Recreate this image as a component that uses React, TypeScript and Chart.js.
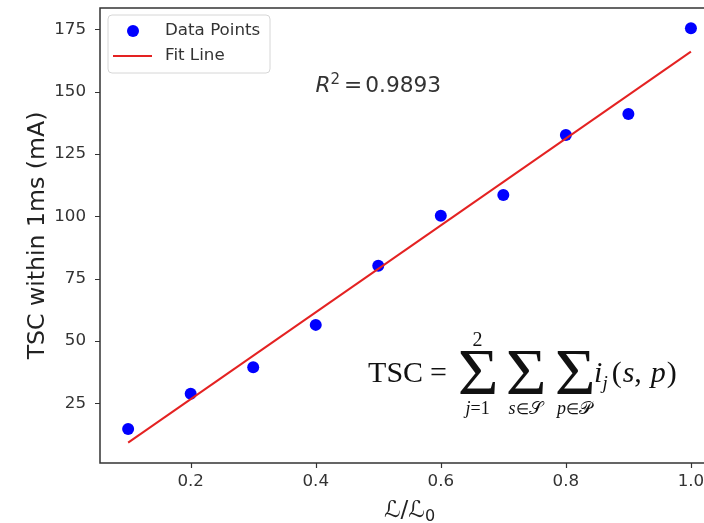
import React, { useEffect, useRef } from "react";
import { Chart, registerables } from "chart.js";

Chart.register(...registerables);

// ---- data ----
const X_VALUES = [0.1, 0.2, 0.3, 0.4, 0.5, 0.6, 0.7, 0.8, 0.9, 1.0];
const TSC_VALUES = [14.6, 28.8, 39.4, 56.4, 80.1, 100.2, 108.5, 132.6, 141.0, 175.4];
const FIT_X = [0.1, 1.0];
const FIT_Y = [9.2, 166.0];
const X_TICKS = [0.2, 0.4, 0.6, 0.8, 1.0];
const Y_TICKS = [25, 50, 75, 100, 125, 150, 175];
const LEGEND_LABELS = ["Data Points", "Fit Line"];
const R2_VALUE = "0.9893";
const Y_TITLE = "TSC within 1ms (mA)";

// ---- layout / style constants ----
const SANS = "DejaVu Sans";
const SERIF = "Liberation Serif";
const BLUE = "#0000ff";
const RED = "#e42222";
const INK = "#333333";
const R2_POS = { x: 0.5, y: 150 };
const FORMULA_POS = { x: 0.4837, y: 33.5 };
const VIEW_W = 704;
const VIEW_H = 523;
const TICK_LEN = 5;
// visible x-range: the figure is cropped on the right, so the axis is cut at ~1.021
const X_MIN = 0.055;
const X_MAX_VISIBLE = 1.0209;
const Y_MIN = 1.0;
const Y_MAX = 183.5;

function drawSegments(
  ctx: CanvasRenderingContext2D,
  segs: { t: string; font: string; dy?: number; gap?: number }[],
  x: number,
  y: number,
  align: "left" | "center"
) {
  let total = 0;
  const widths = segs.map((s) => {
    ctx.font = s.font;
    const w = ctx.measureText(s.t).width + (s.gap || 0);
    total += w;
    return w;
  });
  let cx = align === "center" ? x - total / 2 : x;
  segs.forEach((s, i) => {
    ctx.font = s.font;
    ctx.fillText(s.t, cx, y + (s.dy || 0));
    cx += widths[i];
  });
  return total;
}

function drawSigma(ctx: CanvasRenderingContext2D, x: number, y: number, w: number, h: number) {
  ctx.save();
  ctx.font = `60px "${SERIF}"`;
  ctx.textAlign = "left";
  ctx.textBaseline = "alphabetic";
  const m = ctx.measureText("Σ");
  const bw = m.actualBoundingBoxLeft + m.actualBoundingBoxRight;
  const bh = m.actualBoundingBoxAscent + m.actualBoundingBoxDescent;
  ctx.translate(x, y);
  ctx.scale(w / bw, h / bh);
  ctx.fillText("Σ", m.actualBoundingBoxLeft, m.actualBoundingBoxAscent);
  ctx.restore();
}

const annotationPlugin = {
  id: "annotations",
  afterDraw(chart: any) {
    const { ctx, chartArea: ca, scales } = chart;
    const xs = scales.x;
    const ys = scales.y;
    ctx.save();

    // spines: left, bottom, top (right spine lies outside the cropped view)
    ctx.strokeStyle = INK;
    ctx.lineWidth = 1.5;
    ctx.beginPath();
    ctx.moveTo(ca.left, ca.top);
    ctx.lineTo(ca.left, ca.bottom);
    ctx.moveTo(ca.left - 0.75, ca.bottom);
    ctx.lineTo(ca.right + 2, ca.bottom);
    ctx.moveTo(ca.left - 0.75, ca.top);
    ctx.lineTo(ca.right + 2, ca.top);
    ctx.stroke();

    // tick marks
    ctx.lineWidth = 1.2;
    ctx.beginPath();
    Y_TICKS.forEach((v) => {
      const py = Math.round(ys.getPixelForValue(v)) + 0.5;
      ctx.moveTo(ca.left - TICK_LEN, py);
      ctx.lineTo(ca.left, py);
    });
    X_TICKS.forEach((v) => {
      const px = Math.round(xs.getPixelForValue(v)) + 0.5;
      ctx.moveTo(px, ca.bottom);
      ctx.lineTo(px, ca.bottom + TICK_LEN);
    });
    ctx.stroke();

    // legend
    const lx = ca.left + 8;
    const ly = ca.top + 7;
    const lw = 162;
    const lh = 58;
    const r = 4;
    ctx.beginPath();
    ctx.moveTo(lx + r, ly);
    ctx.lineTo(lx + lw - r, ly);
    ctx.quadraticCurveTo(lx + lw, ly, lx + lw, ly + r);
    ctx.lineTo(lx + lw, ly + lh - r);
    ctx.quadraticCurveTo(lx + lw, ly + lh, lx + lw - r, ly + lh);
    ctx.lineTo(lx + r, ly + lh);
    ctx.quadraticCurveTo(lx, ly + lh, lx, ly + lh - r);
    ctx.lineTo(lx, ly + r);
    ctx.quadraticCurveTo(lx, ly, lx + r, ly);
    ctx.closePath();
    ctx.fillStyle = "rgba(255,255,255,0.8)";
    ctx.fill();
    ctx.strokeStyle = "#d6d6d6";
    ctx.lineWidth = 1;
    ctx.stroke();

    ctx.fillStyle = BLUE;
    ctx.beginPath();
    ctx.arc(lx + 25, ly + 16, 6, 0, Math.PI * 2);
    ctx.fill();
    ctx.strokeStyle = RED;
    ctx.lineWidth = 2;
    ctx.beginPath();
    ctx.moveTo(lx + 5, ly + 41);
    ctx.lineTo(lx + 44, ly + 41);
    ctx.stroke();

    ctx.fillStyle = INK;
    ctx.font = `16.7px "${SANS}"`;
    ctx.textBaseline = "middle";
    ctx.textAlign = "left";
    ctx.fillText(LEGEND_LABELS[0], lx + 57, ly + 16);
    ctx.fillText(LEGEND_LABELS[1], lx + 57, ly + 41);

    // R^2 label
    ctx.textBaseline = "alphabetic";
    const rx = xs.getPixelForValue(R2_POS.x);
    const ry = ys.getPixelForValue(R2_POS.y);
    drawSegments(
      ctx,
      [
        { t: "R", font: `italic 21.7px "${SANS}"` },
        { t: "2", font: `15px "${SANS}"`, dy: -8, gap: 4 },
        { t: "=", font: `21.7px "${SANS}"`, gap: 3 },
        { t: R2_VALUE, font: `21.7px "${SANS}"` },
      ],
      rx,
      ry,
      "center"
    );

    // y-axis title
    ctx.save();
    ctx.translate(ca.left - 56, (ca.top + ca.bottom) / 2);
    ctx.rotate(-Math.PI / 2);
    ctx.font = `23.6px "${SANS}"`;
    ctx.textAlign = "center";
    ctx.fillStyle = "#222";
    ctx.fillText(Y_TITLE, 0, 0);
    ctx.restore();

    // x-axis title  L / L_0, centred on the full (uncropped) axes width
    ctx.fillStyle = "#222";
    ctx.textAlign = "left";
    drawSegments(
      ctx,
      [
        { t: "ℒ", font: `italic 23px "${SANS}"` },
        { t: "/", font: `23px "${SANS}"` },
        { t: "ℒ", font: `italic 23px "${SANS}"` },
        { t: "0", font: `16px "${SANS}"`, dy: 4 },
      ],
      (xs.getPixelForValue(X_MIN) + xs.getPixelForValue(1.045)) / 2,
      ca.bottom + 54,
      "center"
    );

    // formula
    ctx.fillStyle = "#111";
    const fx = xs.getPixelForValue(FORMULA_POS.x);
    const fy = ys.getPixelForValue(FORMULA_POS.y);
    ctx.font = `30px "${SERIF}"`;
    ctx.fillText("TSC", fx, fy);
    ctx.fillText("=", fx + 62, fy);
    const sigLefts = [92, 140, 189];
    const sw = 35;
    sigLefts.forEach((l) => drawSigma(ctx, fx + l, fy - 31, sw, 43));
    ctx.font = `20px "${SERIF}"`;
    ctx.textAlign = "center";
    ctx.fillText("2", fx + sigLefts[0] + sw / 2, fy - 36);
    ctx.textAlign = "left";
    const it = `italic 18px "${SERIF}"`;
    const up = `18px "${SERIF}"`;
    const up2 = `15px "${SERIF}"`;
    drawSegments(ctx, [{ t: "j", font: it }, { t: "=1", font: up }], fx + sigLefts[0] + sw / 2, fy + 32, "center");
    drawSegments(ctx, [{ t: "s", font: it }, { t: "∈", font: up2 }, { t: "𝒮", font: up }], fx + sigLefts[1] + sw / 2, fy + 32, "center");
    drawSegments(ctx, [{ t: "p", font: it }, { t: "∈", font: up2 }, { t: "𝒫", font: up }], fx + sigLefts[2] + sw / 2, fy + 32, "center");
    drawSegments(
      ctx,
      [
        { t: "i", font: `italic 30px "${SERIF}"` },
        { t: "j", font: `italic 19px "${SERIF}"`, dy: 7, gap: 4 },
        { t: "(", font: `30px "${SERIF}"`, gap: 1 },
        { t: "s", font: `italic 30px "${SERIF}"` },
        { t: ",", font: `30px "${SERIF}"`, gap: 9 },
        { t: "p", font: `italic 30px "${SERIF}"`, gap: 1 },
        { t: ")", font: `30px "${SERIF}"` },
      ],
      fx + 226,
      fy,
      "left"
    );

    ctx.restore();
  },
};

export default function App() {
  const ref = useRef<HTMLCanvasElement>(null);

  useEffect(() => {
    if (!ref.current) return;
    const scatterData = X_VALUES.map((x, i) => ({ x, y: TSC_VALUES[i] }));
    const fitData = FIT_X.map((x, i) => ({ x, y: FIT_Y[i] }));
    const tickFont = { family: SANS, size: 16.7 };
    const hiddenGrid = {
      display: true,
      drawOnChartArea: false,
      drawTicks: true,
      tickLength: TICK_LEN,
      color: "rgba(0,0,0,0)",
    };
    const chart = new Chart(ref.current, {
      type: "scatter",
      data: {
        datasets: [
          {
            label: LEGEND_LABELS[0],
            data: scatterData,
            backgroundColor: BLUE,
            borderColor: BLUE,
            pointRadius: 6,
            pointBorderWidth: 0,
            order: 2,
          },
          {
            label: LEGEND_LABELS[1],
            data: fitData,
            showLine: true,
            borderColor: RED,
            backgroundColor: RED,
            borderWidth: 2,
            pointRadius: 0,
            order: 1,
          } as any,
        ],
      },
      options: {
        responsive: false,
        animation: false,
        devicePixelRatio: 1,
        layout: { autoPadding: false, padding: { top: 8, right: 0, left: 0, bottom: 0 } },
        plugins: { legend: { display: false }, tooltip: { enabled: false } },
        scales: {
          x: {
            type: "linear",
            min: X_MIN,
            max: X_MAX_VISIBLE,
            afterFit: (s: any) => {
              s.height = 60;
              s.paddingLeft = 0;
              s.paddingRight = 0;
            },
            afterBuildTicks: (s: any) => {
              s.ticks = X_TICKS.map((v) => ({ value: v }));
            },
            ticks: {
              callback: (v: any) => Number(v).toFixed(1),
              color: INK,
              font: tickFont,
              padding: 4,
              maxRotation: 0,
              autoSkip: false,
            },
            grid: hiddenGrid,
            border: { display: false },
          },
          y: {
            type: "linear",
            min: Y_MIN,
            max: Y_MAX,
            afterFit: (s: any) => {
              s.width = 100;
              s.paddingTop = 0;
              s.paddingBottom = 0;
            },
            afterBuildTicks: (s: any) => {
              s.ticks = Y_TICKS.map((v) => ({ value: v }));
            },
            ticks: {
              callback: (v: any) => String(v),
              color: INK,
              font: tickFont,
              padding: 9,
              autoSkip: false,
            },
            grid: hiddenGrid,
            border: { display: false },
          },
        },
      },
      plugins: [annotationPlugin],
    });
    return () => chart.destroy();
  }, []);

  return (
    <div
      style={{
        position: "fixed",
        left: 0,
        top: 0,
        width: VIEW_W,
        height: VIEW_H,
        overflow: "hidden",
        background: "#fff",
      }}
    >
      <canvas ref={ref} width={VIEW_W} height={VIEW_H} style={{ display: "block", width: VIEW_W, height: VIEW_H }} />
    </div>
  );
}
